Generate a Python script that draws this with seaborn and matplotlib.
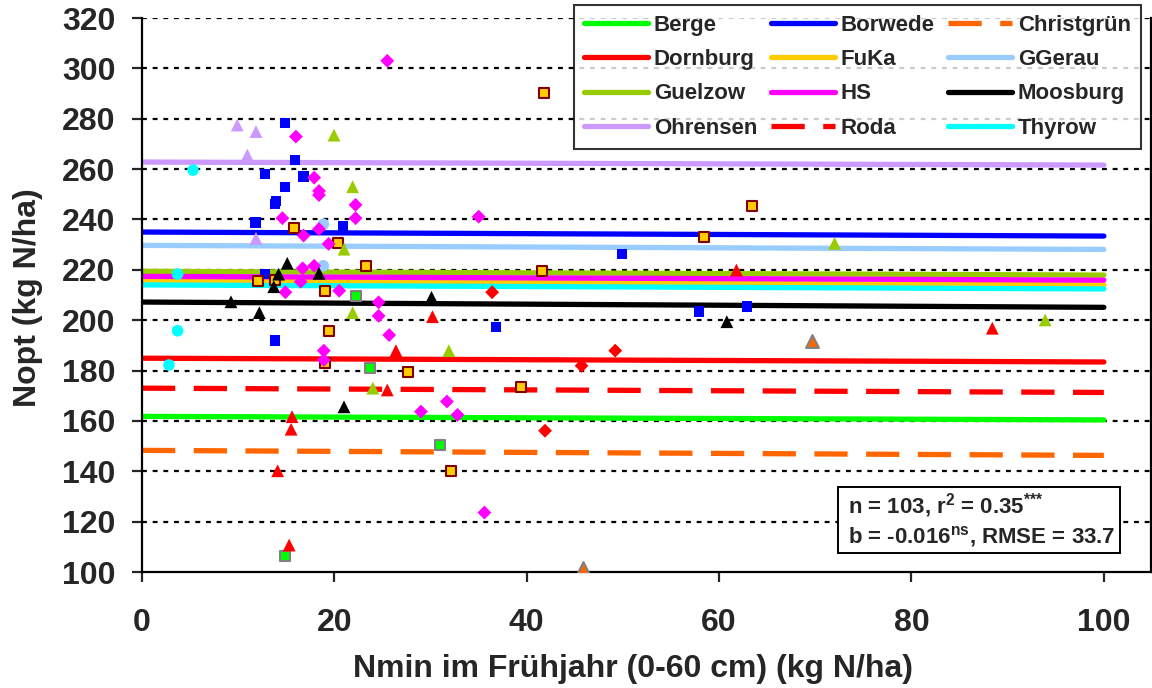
import matplotlib
matplotlib.use("Agg")
import matplotlib.pyplot as plt
import seaborn as sns
import pandas as pd
from matplotlib.lines import Line2D
from matplotlib.patches import Rectangle

# ---------------- data ----------------
sites = ["Berge", "Borwede", "Christgrün", "Dornburg", "FuKa", "GGerau",
         "Guelzow", "HS", "Moosburg", "Ohrensen", "Roda", "Thyrow"]

# regression line values at Nmin = 0 and Nmin = 100
line_x = [0, 100]
line_start = [161.8, 235.0, 148.3, 184.9, 215.6, 229.7, 219.4, 217.4, 207.2, 262.8, 173.0, 214.0]
line_end = [160.4, 233.4, 146.3, 183.4, 214.0, 228.1, 217.9, 215.9, 205.1, 261.6, 171.3, 212.4]

berge_x = [22.3, 23.7, 31.0, 14.9]
berge_y = [209.6, 180.9, 150.4, 106.4]
borwede_x = [14.9, 15.9, 12.8, 16.8, 14.9, 13.8, 13.9, 11.8, 20.9, 12.8, 13.8, 49.9, 36.8, 57.9, 62.9]
borwede_y = [278.2, 263.6, 258.1, 257.0, 252.8, 246.0, 247.2, 238.8, 237.4, 218.3, 191.9, 226.3, 197.2, 203.4, 205.4]
christ_x = [45.9, 69.7]
christ_y = [101.5, 191.9]
dornburg_x = [36.4, 49.2, 45.7, 41.9]
dornburg_y = [211.1, 187.9, 181.9, 156.1]
fuka_x = [15.8, 20.4, 23.3, 12.1, 13.8, 19.0, 19.4, 19.0, 27.7, 39.4, 32.1, 41.8, 41.6, 63.4, 58.4]
fuka_y = [236.7, 230.5, 221.6, 215.6, 216.0, 211.6, 195.8, 182.9, 179.6, 173.3, 140.1, 290.1, 219.7, 245.4, 233.2]
ggerau_x = [18.85, 18.85]
ggerau_y = [238.1, 221.6]
guelzow_x = [19.96, 21.9, 21.0, 21.9, 24.0, 31.9, 72.0, 93.9]
guelzow_y = [273.5, 253.0, 228.2, 203.0, 173.0, 187.9, 230.5, 200.1]
hs_x = [16.0, 17.9, 18.4, 18.4, 22.2, 14.6, 22.2, 16.8, 18.4, 19.4, 16.7, 17.9, 16.5, 14.9,
        20.5, 18.9, 18.9, 25.5, 35.0, 24.6, 24.6, 25.7, 31.7, 29.0, 32.8, 35.6]
hs_y = [272.9, 256.6, 251.3, 249.7, 245.8, 240.5, 240.5, 233.6, 236.2, 230.3, 220.6, 221.6, 215.3, 211.1,
        211.7, 187.9, 184.2, 303.0, 241.1, 207.1, 201.7, 194.1, 167.7, 163.7, 162.4, 123.6]
moosburg_x = [15.1, 18.4, 14.2, 13.7, 9.25, 12.2, 21.0, 30.1, 60.8]
moosburg_y = [222.6, 218.6, 218.3, 213.3, 207.3, 203.0, 165.6, 209.1, 199.4]
ohrensen_x = [9.9, 11.85, 10.95, 11.85]
ohrensen_y = [277.5, 274.9, 265.6, 232.5]
roda_x = [15.6, 15.5, 14.1, 15.3, 30.2, 26.4, 25.5, 61.8, 88.4]
roda_y = [161.7, 156.7, 140.2, 110.7, 201.4, 187.9, 172.3, 219.9, 196.8]
thyrow_x = [5.3, 3.7, 3.7, 2.8]
thyrow_y = [259.6, 218.3, 195.8, 182.2]

points_x = [berge_x, borwede_x, christ_x, dornburg_x, fuka_x, ggerau_x,
            guelzow_x, hs_x, moosburg_x, ohrensen_x, roda_x, thyrow_x]
points_y = [berge_y, borwede_y, christ_y, dornburg_y, fuka_y, ggerau_y,
            guelzow_y, hs_y, moosburg_y, ohrensen_y, roda_y, thyrow_y]

x_ticks = [0, 20, 40, 60, 80, 100]
y_ticks = [100, 120, 140, 160, 180, 200, 220, 240, 260, 280, 300, 320]
stats_line1 = r"n = 103, r$^{2}$ = 0.35$^{{*}{*}{*}}$"
stats_line2 = r"b = -0.016$^{ns}$, RMSE = 33.7"

# ---------------- styles ----------------
colors = ["#00FF00", "#0000FF", "#FF6600", "#FF0000", "#FFCC00", "#99CCFF",
          "#99CC00", "#FF00FF", "#000000", "#CC99FF", "#FF0000", "#00FFFF"]
dashed = [False, False, True, False, False, False, False, False, False, False, True, False]
markers = ["s", "s", "^", "D", "s", "o", "^", "D", "^", "^", "^", "o"]
msizes = [50, 55, 85, 50, 50, 70, 85, 50, 85, 85, 85, 70]
medge = ["#808080", "none", "#808080", "none", "#800000", "none", "none", "none", "none", "none", "none", "none"]
mlw = [1.5, 0, 1.5, 0, 1.5, 0, 0, 0, 0, 0, 0, 0]
LW = 3.8
DASH = (0, (6.3, 3.5))

sns.set_style("ticks")
plt.rcParams["font.family"] = ["Liberation Sans", "DejaVu Sans"]
plt.rcParams["font.weight"] = "bold"
plt.rcParams["mathtext.fontset"] = "custom"
plt.rcParams["mathtext.rm"] = "Liberation Sans:bold"
plt.rcParams["mathtext.it"] = "Liberation Sans:bold"
plt.rcParams["mathtext.bf"] = "Liberation Sans:bold"
plt.rcParams["mathtext.default"] = "rm"

fig = plt.figure(figsize=(11.52, 6.88), dpi=100)
ax = fig.add_axes([142 / 1152, 116 / 688, 1009 / 1152, 554 / 688])

ax.set_xlim(0, 104.9)
ax.set_ylim(100, 320)

# gridlines
for yv in y_ticks[1:]:
    ax.axhline(yv, color="black", lw=1.6, ls=(0, (2.2, 2.6)), zorder=1)

# regression lines
for i, s in enumerate(sites):
    df = pd.DataFrame({"x": line_x, "y": [line_start[i], line_end[i]]})
    sns.lineplot(data=df, x="x", y="y", ax=ax, color=colors[i], lw=LW,
                 solid_capstyle="round", zorder=2, legend=False)
    ln = ax.get_lines()[-1]
    if dashed[i]:
        ln.set_linestyle(DASH)
        ln.set_dash_capstyle("butt")

# scatter points
for i, s in enumerate(sites):
    df = pd.DataFrame({"x": points_x[i], "y": points_y[i]})
    sns.scatterplot(data=df, x="x", y="y", ax=ax, marker=markers[i], s=msizes[i],
                    color=colors[i], edgecolor=medge[i], linewidth=mlw[i],
                    zorder=3, legend=False)

# axes styling
ax.set_xticks(x_ticks)
ax.set_yticks(y_ticks)
ax.tick_params(axis="both", labelsize=23, width=1.6, length=7, direction="out")
ax.tick_params(axis="x", pad=19)
ax.tick_params(axis="y", pad=12)
for lab in ax.get_xticklabels() + ax.get_yticklabels():
    lab.set_fontweight("bold")
for side in ["left", "bottom", "right"]:
    ax.spines[side].set_linewidth(1.6)
    ax.spines[side].set_color("black")
ax.spines["top"].set_visible(False)
ax.set_xlabel("Nmin im Frühjahr (0-60 cm) (kg N/ha)", fontsize=23, fontweight="bold")
ax.set_ylabel("Nopt (kg N/ha)", fontsize=23, fontweight="bold")
ax.xaxis.set_label_coords(0.487, -0.148)
ax.yaxis.set_label_coords(-0.098, 0.496)

# legend (row-wise order -> column-wise handles)
handles = []
for i, s in enumerate(sites):
    if dashed[i]:
        h = Line2D([0], [0], color=colors[i], lw=LW, ls=DASH)
    else:
        h = Line2D([0], [0], color=colors[i], lw=LW, solid_capstyle="round")
    handles.append(h)
order = [0, 3, 6, 9, 1, 4, 7, 10, 2, 5, 8, 11]
leg = ax.legend([handles[k] for k in order], [sites[k] for k in order], ncol=3,
                loc="upper right", bbox_to_anchor=(0.990, 1.024),
                fontsize=16, frameon=True, fancybox=False, handlelength=2.9,
                handletextpad=0.25, columnspacing=0.6, labelspacing=0.6,
                borderpad=0.45, borderaxespad=0.0)
leg.get_frame().set_edgecolor("black")
leg.get_frame().set_linewidth(1.5)
for t in leg.get_texts():
    t.set_fontweight("bold")

# statistics box
ax.add_patch(Rectangle((0.690, 0.034), 0.279, 0.119, transform=ax.transAxes,
                       facecolor="white", edgecolor="black", lw=1.4, zorder=5))
ax.text(0.700, 0.0935, stats_line1 + "\n" + stats_line2, transform=ax.transAxes,
        fontsize=16, fontweight="bold", ha="left", va="center", linespacing=1.2,
        zorder=6)

fig.savefig("out.png", dpi=100)
